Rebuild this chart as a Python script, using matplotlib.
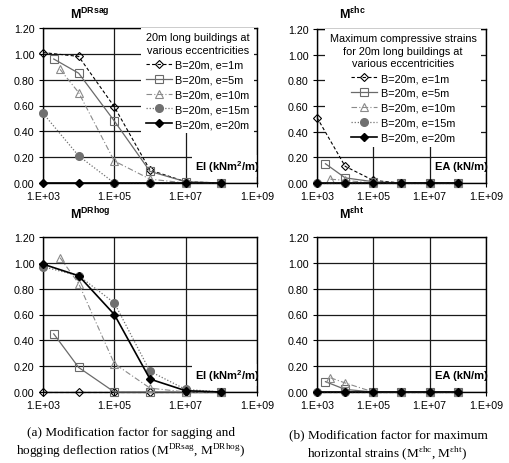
import numpy as np
import matplotlib
matplotlib.use("Agg")
import matplotlib.pyplot as plt
from matplotlib.ticker import NullLocator

plt.rcParams['font.family'] = ['Liberation Sans', 'DejaVu Sans']

W, H = 510, 464

# series labels (same for every panel)
labels = ["B=20m, e=1m", "B=20m, e=5m", "B=20m, e=10m", "B=20m, e=15m", "B=20m, e=20m"]

# x positions (stiffness) of each series
x_e1 = [1e3, 1e4, 1e5, 1e6, 1e7, 1e8]
x_e5 = [2e3, 1e4, 1e5, 1e6, 1e7, 1e8]
x_e10 = [3e3, 1e4, 1e5, 1e6, 1e7, 1e8]
x_e15 = [1e3, 1e4, 1e5, 1e6, 1e7, 1e8]
x_e20 = [1e3, 1e4, 1e5, 1e6, 1e7, 1e8]

# M_DRsag
sag_e1 = [1.01, 0.98, 0.59, 0.10, 0.01, 0.0]
sag_e5 = [0.96, 0.85, 0.48, 0.09, 0.01, 0.0]
sag_e10 = [0.88, 0.70, 0.17, 0.03, 0.0, 0.0]
sag_e15 = [0.54, 0.21, 0.0, 0.0, 0.0, 0.0]
sag_e20 = [0.0, 0.0, 0.0, 0.0, 0.0, 0.0]

# M_ehc
hc_e1 = [0.51, 0.13, 0.02, 0.0, 0.0, 0.0]
hc_e5 = [0.15, 0.04, 0.01, 0.0, 0.0, 0.0]
hc_e10 = [0.03, 0.02, 0.0, 0.0, 0.0, 0.0]
hc_e15 = [0.0, 0.0, 0.0, 0.0, 0.0, 0.0]
hc_e20 = [0.0, 0.0, 0.0, 0.0, 0.0, 0.0]

# M_DRhog
hog_e1 = [0.0, 0.0, 0.0, 0.0, 0.0, 0.0]
hog_e5 = [0.45, 0.19, 0.0, 0.0, 0.0, 0.0]
hog_e10 = [1.04, 0.84, 0.22, 0.03, 0.0, 0.0]
hog_e15 = [0.97, 0.90, 0.69, 0.16, 0.02, 0.0]
hog_e20 = [0.99, 0.90, 0.60, 0.10, 0.01, 0.0]

# M_eht
ht_e1 = [0.0, 0.0, 0.0, 0.0, 0.0, 0.0]
ht_e5 = [0.08, 0.02, 0.0, 0.0, 0.0, 0.0]
ht_e10 = [0.11, 0.07, 0.0, 0.0, 0.0, 0.0]
ht_e15 = [0.0, 0.0, 0.0, 0.0, 0.0, 0.0]
ht_e20 = [0.0, 0.0, 0.0, 0.0, 0.0, 0.0]

xs = [x_e1, x_e5, x_e10, x_e15, x_e20]
x_ticks = [1e3, 1e5, 1e7, 1e9]
x_ticklabels = ["1.E+03", "1.E+05", "1.E+07", "1.E+09"]
y_ticks = [0.0, 0.2, 0.4, 0.6, 0.8, 1.0, 1.2]

styles = [
    dict(color='black', ls=(0, (3, 2)), lw=0.8, marker='D', ms=4.5, mfc='none', mec='black', mew=0.8),
    dict(color='#6a6a6a', ls='-', lw=0.9, marker='s', ms=6, mfc='none', mec='#6a6a6a', mew=0.8),
    dict(color='#8a8a8a', ls=(0, (5, 2, 1, 2)), lw=0.8, marker='^', ms=6, mfc='none', mec='#8a8a8a', mew=0.8),
    dict(color='#707070', ls=(0, (1, 1.5)), lw=0.9, marker='o', ms=5.5, mfc='#707070', mec='#707070'),
    dict(color='black', ls='-', lw=1.2, marker='D', ms=4.5, mfc='black', mec='black'),
]


def px_axes(fig, left, top, right, bottom):
    return fig.add_axes([left / W, 1 - bottom / H, (right - left) / W, (bottom - top) / H])


def setup(ax, xlab, ys):
    for x, y, st in zip(xs, ys, styles):
        ax.plot(x, y, clip_on=False, zorder=3, **st)
    ax.set_xscale('log')
    ax.set_xlim(1e3, 1e9)
    ax.set_ylim(0, 1.2)
    ax.set_xticks(x_ticks)
    ax.set_xticklabels(x_ticklabels)
    ax.xaxis.set_minor_locator(NullLocator())
    ax.set_yticks(y_ticks)
    ax.set_yticklabels(["%.2f" % v for v in y_ticks])
    ax.grid(True, color='#1a1a1a', lw=0.9)
    ax.set_axisbelow(True)
    for s in ax.spines.values():
        s.set_linewidth(1.0)
    ax.tick_params(direction='out', length=3, width=0.8, labelsize=7.7, pad=3)
    ax.text(1.01, 0.11, xlab, transform=ax.transAxes, ha='right', va='center',
            fontsize=8, fontweight='bold', zorder=2.5,
            bbox=dict(facecolor='white', edgecolor='none', pad=2))


def add_legend(ax, title, right):
    leg = ax.legend(labels, loc='upper right', bbox_to_anchor=(right, 1.0), borderaxespad=0,
                    title=title, title_fontsize=7.8, fontsize=7.8, numpoints=1,
                    handlelength=2.4, handletextpad=0.3, labelspacing=0.45, borderpad=0.4,
                    fancybox=False, framealpha=1, facecolor='white', edgecolor='none')
    leg.get_title().set_multialignment('center')
    leg.get_title().set_linespacing(1.3)
    # keep data lines drawn over the white legend box
    leg.set_zorder(2.6)
    return leg


fig = plt.figure(figsize=(W / 100, H / 100), dpi=100)

ax1 = px_axes(fig, 43, 29, 257, 184)
setup(ax1, 'EI (kNm$^{\\mathregular{2}}$/m)', [sag_e1, sag_e5, sag_e10, sag_e15, sag_e20])
add_legend(ax1, "20m long buildings at\nvarious eccentricities", 0.985)

ax2 = px_axes(fig, 317, 30, 486, 184)
setup(ax2, 'EA (kN/m)', [hc_e1, hc_e5, hc_e10, hc_e15, hc_e20])
add_legend(ax2, "Maximum compressive strains\nfor 20m long buildings at\nvarious eccentricities", 0.97)

ax3 = px_axes(fig, 43, 238, 257, 393)
setup(ax3, 'EI (kNm$^{\\mathregular{2}}$/m)', [hog_e1, hog_e5, hog_e10, hog_e15, hog_e20])

ax4 = px_axes(fig, 317, 238, 486, 393)
setup(ax4, 'EA (kN/m)', [ht_e1, ht_e5, ht_e10, ht_e15, ht_e20])

# panel y labels
for x, y, s in [(70, 19, 'M$^{\\mathregular{DRsag}}$'), (339, 19, 'M$^{\\mathregular{εhc}}$'),
                (70, 219, 'M$^{\\mathregular{DRhog}}$'), (339, 219, 'M$^{\\mathregular{εht}}$')]:
    fig.text(x / W, 1 - y / H, s, fontsize=9, fontweight='bold', ha='left', va='baseline')

# captions
serif = ['Liberation Serif', 'DejaVu Serif']
cap_fs = 9.5
fig.text(131 / W, 1 - 436 / H, "(a) Modification factor for sagging and",
         family=serif, fontsize=cap_fs, ha='center', va='baseline')
fig.text(131 / W, 1 - 455 / H,
         "hogging deflection ratios (M$^{\\mathregular{DRsag}}$, M$^{\\mathregular{DRhog}}$)",
         family=serif, fontsize=cap_fs, ha='center', va='baseline')
fig.text(388 / W, 1 - 438 / H, "(b) Modification factor for maximum",
         family=serif, fontsize=cap_fs, ha='center', va='baseline')
fig.text(387 / W, 1 - 457 / H,
         "horizontal strains (M$^{\\mathregular{εhc}}$, M$^{\\mathregular{εht}}$)",
         family=serif, fontsize=cap_fs, ha='center', va='baseline')

fig.savefig("out.png", dpi=100)
